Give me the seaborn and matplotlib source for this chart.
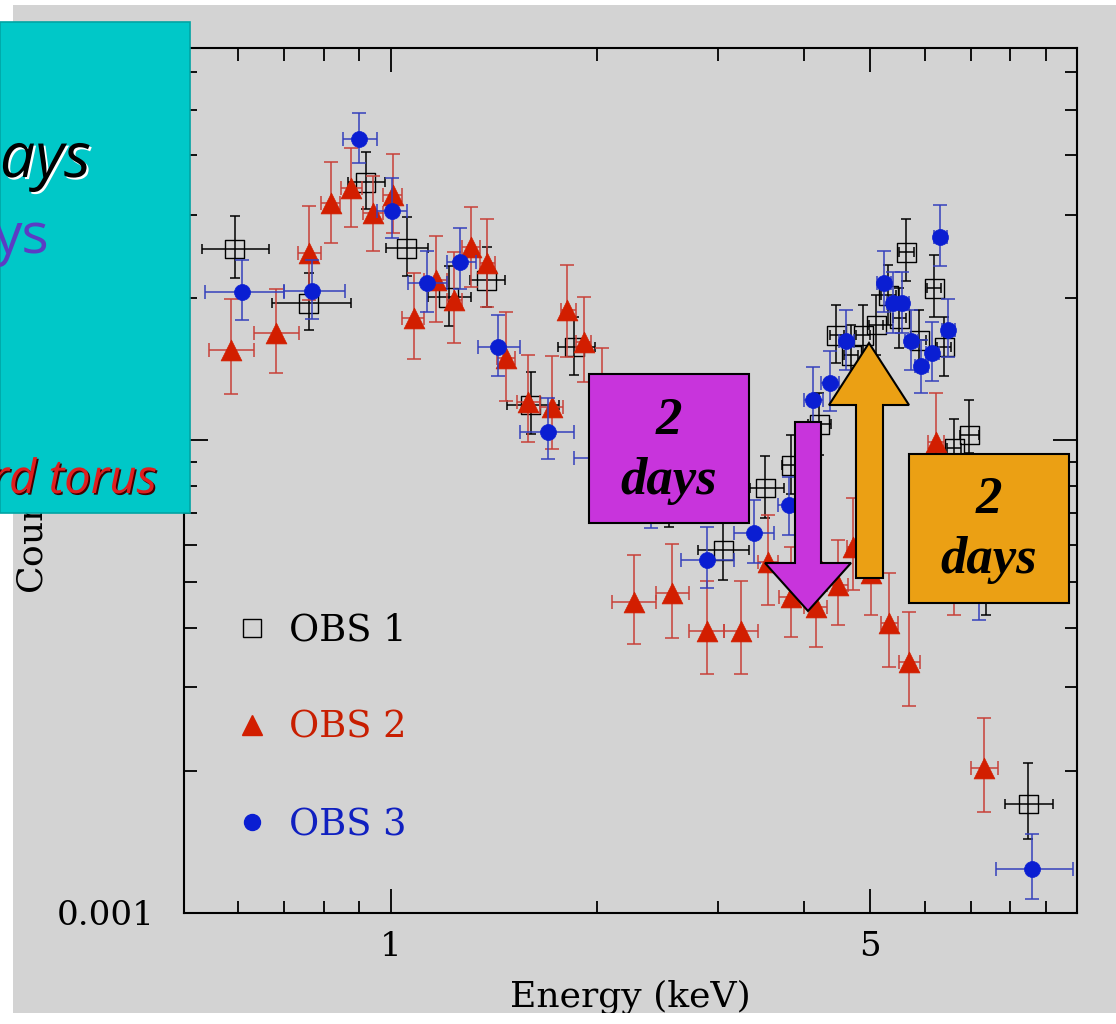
import matplotlib
matplotlib.use('Agg')
import matplotlib.pyplot as plt
import matplotlib.patches as mpatches
import matplotlib.patheffects as pe
from matplotlib.lines import Line2D
from matplotlib.ticker import FixedLocator, NullFormatter
import numpy as np
import pandas as pd
import seaborn as sns

# --- data (energy in keV, counts s^-1 keV^-1) ---
obs1_e   = [0.593, 0.760, 0.920, 1.055, 1.215, 1.380, 1.599, 1.853, 2.548, 3.054, 3.516, 3.837, 4.214, 4.461,
            4.691, 4.882, 5.100, 5.310, 5.509, 5.641, 5.892, 6.196, 6.407, 6.626, 6.967, 7.375, 8.492]
obs1_elo = [0.532, 0.671, 0.866, 0.983, 1.132, 1.303, 1.476, 1.751, 2.400, 2.809, 3.344, 3.720, 4.050, 4.360,
            4.580, 4.770, 4.980, 5.190, 5.390, 5.510, 5.760, 6.050, 6.260, 6.470, 6.750, 7.150, 7.861]
obs1_ehi = [0.666, 0.877, 0.980, 1.132, 1.308, 1.466, 1.757, 1.982, 2.700, 3.332, 3.747, 3.960, 4.380, 4.570,
            4.800, 5.000, 5.220, 5.440, 5.630, 5.780, 6.030, 6.340, 6.560, 6.780, 7.200, 7.630, 9.234]
obs1_c   = [0.02535, 0.01948, 0.03512, 0.02547, 0.02006, 0.02179, 0.01186, 0.01573, 0.00758, 0.00585, 0.00792,
            0.00885, 0.01081, 0.01667, 0.01512, 0.01667, 0.01751, 0.02025, 0.01811, 0.02498, 0.01627, 0.02096,
            0.01573, 0.00962, 0.01025, 0.00531, 0.00170]
obs1_chi = [0.02976, 0.02255, 0.04060, 0.02961, 0.02333, 0.02559, 0.01393, 0.01820, 0.00877, 0.00668, 0.00925,
            0.01025, 0.01257, 0.01929, 0.01751, 0.01930, 0.02025, 0.02344, 0.02096, 0.02933, 0.01883, 0.02461,
            0.01820, 0.01110, 0.01215, 0.00615, 0.002075]
obs1_clo = [0.02200, 0.01708, 0.03079, 0.02222, 0.01742, 0.01910, 0.01030, 0.01372, 0.00655, 0.00506, 0.00684,
            0.00770, 0.00930, 0.01455, 0.01310, 0.01440, 0.01512, 0.01751, 0.01565, 0.02168, 0.01406, 0.01820,
            0.01366, 0.00830, 0.00939, 0.00427, 0.001434]

obs2_e   = [0.585, 0.680, 0.760, 0.818, 0.877, 0.942, 1.007, 1.080, 1.163, 1.235, 1.308, 1.380, 1.471, 1.588,
            1.716, 1.810, 1.910, 2.029, 2.259, 2.574, 2.895, 3.244, 3.551, 3.837, 4.172, 4.491, 4.722, 5.015,
            5.328, 5.698, 6.237, 6.626, 7.326]
obs2_elo = [0.543, 0.632, 0.732, 0.791, 0.848, 0.910, 0.974, 1.040, 1.120, 1.207, 1.270, 1.350, 1.430, 1.530,
            1.650, 1.770, 1.860, 1.960, 2.098, 2.432, 2.725, 3.064, 3.435, 3.680, 4.000, 4.330, 4.620, 4.900,
            5.190, 5.500, 6.070, 6.450, 7.014]
obs2_ehi = [0.632, 0.735, 0.791, 0.845, 0.907, 0.974, 1.040, 1.120, 1.207, 1.270, 1.350, 1.420, 1.520, 1.650,
            1.780, 1.860, 1.960, 2.110, 2.432, 2.725, 3.064, 3.435, 3.670, 3.990, 4.330, 4.640, 4.850, 5.130,
            5.490, 5.900, 6.410, 6.800, 7.678]
obs2_c   = [0.01550, 0.01684, 0.02486, 0.03170, 0.03410, 0.03020, 0.03296, 0.01811, 0.02179, 0.01977, 0.02559,
            0.02367, 0.01490, 0.01203, 0.01174, 0.01883, 0.01612, 0.01240, 0.00455, 0.00475, 0.00395, 0.00395,
            0.00552, 0.00466, 0.00443, 0.00494, 0.00594, 0.00523, 0.00410, 0.00339, 0.00990, 0.00531, 0.002025]
obs2_chi = [0.01987, 0.02086, 0.03124, 0.03870, 0.04143, 0.03615, 0.04024, 0.02255, 0.02700, 0.02498, 0.03109,
            0.02933, 0.01864, 0.01512, 0.01505, 0.02344, 0.02006, 0.01565, 0.00571, 0.00603, 0.00503, 0.00503,
            0.00694, 0.00594, 0.00552, 0.00615, 0.00754, 0.00640, 0.00523, 0.00433, 0.01257, 0.00660, 0.00258]
obs2_clo = [0.01251, 0.01386, 0.01977, 0.02609, 0.02821, 0.02510, 0.02739, 0.01483, 0.01776, 0.01604, 0.02106,
            0.01910, 0.01209, 0.00990, 0.00957, 0.01497, 0.01326, 0.01000, 0.00370, 0.00381, 0.00320, 0.00320,
            0.00448, 0.00383, 0.00365, 0.00406, 0.00482, 0.00427, 0.00331, 0.00274, 0.00784, 0.00427, 0.001635]

obs3_e   = [0.607, 0.767, 0.898, 1.003, 1.128, 1.264, 1.436, 1.693, 2.112, 2.399, 2.895, 3.388, 3.811, 4.130,
            4.372, 4.613, 5.239, 5.400, 5.565, 5.737, 5.932, 6.155, 6.322, 6.494, 7.204, 8.607]
obs3_elo = [0.536, 0.699, 0.851, 0.954, 1.059, 1.207, 1.339, 1.545, 1.853, 2.244, 2.645, 3.169, 3.670, 4.000,
            4.240, 4.500, 5.120, 5.280, 5.440, 5.610, 5.800, 6.020, 6.180, 6.350, 6.970, 7.627]
obs3_ehi = [0.699, 0.857, 0.954, 1.055, 1.207, 1.330, 1.541, 1.853, 2.399, 2.548, 3.169, 3.623, 3.990, 4.260,
            4.500, 4.740, 5.360, 5.520, 5.690, 5.870, 6.070, 6.300, 6.470, 6.640, 7.450, 9.875]
obs3_c   = [0.02055, 0.02065, 0.04330, 0.03049, 0.02147, 0.02379, 0.01573, 0.01040, 0.00916, 0.00754, 0.00558,
            0.00636, 0.00729, 0.01215, 0.01320, 0.01620, 0.02147, 0.01948, 0.01948, 0.01620, 0.01434, 0.01527,
            0.02687, 0.01708, 0.00531, 0.001239]
obs3_chi = [0.02402, 0.02402, 0.04912, 0.03580, 0.02510, 0.02807, 0.01837, 0.01227, 0.01060, 0.00870, 0.00655,
            0.00747, 0.00835, 0.01427, 0.01543, 0.01883, 0.02510, 0.02270, 0.02270, 0.01883, 0.01627, 0.01776,
            0.03140, 0.01987, 0.00615, 0.001469]
obs3_clo = [0.01794, 0.01803, 0.03852, 0.02674, 0.01864, 0.02086, 0.01366, 0.00912, 0.00792, 0.00652, 0.00486,
            0.00550, 0.00630, 0.01025, 0.01152, 0.01406, 0.01864, 0.01684, 0.01684, 0.01406, 0.01257, 0.01332,
            0.02333, 0.01497, 0.00416, 0.00107]

obs_names = ['OBS 1', 'OBS 2', 'OBS 3']
x_major = [1, 5]
x_major_labels = ['1', '5']
x_minor = [0.6, 0.7, 0.8, 0.9, 2, 3, 4, 6, 7, 8, 9]
y_major = [0.001, 0.01]
y_major_labels = ['0.001', '0.01']
y_minor = [0.002, 0.003, 0.004, 0.005, 0.006, 0.007, 0.008, 0.009, 0.02, 0.03, 0.04, 0.05, 0.06]

frames = []
for name, e, elo, ehi, c, clo, chi in [
        ('OBS 1', obs1_e, obs1_elo, obs1_ehi, obs1_c, obs1_clo, obs1_chi),
        ('OBS 2', obs2_e, obs2_elo, obs2_ehi, obs2_c, obs2_clo, obs2_chi),
        ('OBS 3', obs3_e, obs3_elo, obs3_ehi, obs3_c, obs3_clo, obs3_chi)]:
    frames.append(pd.DataFrame({'obs': name, 'energy': e, 'e_lo': elo, 'e_hi': ehi,
                                'counts': c, 'c_lo': clo, 'c_hi': chi}))
df = pd.concat(frames, ignore_index=True)

RED = '#d21e00'
BLUE = '#0a1ed2'
styles = {
    'OBS 1': dict(marker='s', s=13.5 ** 2, fc='none', ec='black', lw=1.0, ecol='black', cap=3.5, z=2),
    'OBS 2': dict(marker='^', s=15 ** 2, fc=RED, ec=RED, lw=0.5, ecol='#c84038', cap=5, z=4),
    'OBS 3': dict(marker='o', s=11.5 ** 2, fc=BLUE, ec=BLUE, lw=0.5, ecol='#3440bc', cap=5, z=6),
}
text_colors = ['black', '#c81e00', '#1020c0']

sns.set_style('ticks')
plt.rcParams['font.family'] = ['DejaVu Serif']
plt.rcParams['mathtext.fontset'] = 'dejavuserif'

W, H = 1116, 1024
GRAY = '#d3d3d3'
fig = plt.figure(figsize=(W / 100, H / 100), dpi=100, facecolor=GRAY)
ax = fig.add_axes([184 / W, 1 - 913 / H, (1077 - 184) / W, (913 - 48) / H])
ax.set_facecolor('none')

for name in obs_names:
    st = styles[name]
    d = df[df['obs'] == name]
    ax.errorbar(d['energy'], d['counts'],
                xerr=[d['energy'] - d['e_lo'], d['e_hi'] - d['energy']],
                yerr=[d['counts'] - d['c_lo'], d['c_hi'] - d['counts']],
                fmt='none', ecolor=st['ecol'], elinewidth=1.1, capsize=st['cap'], capthick=1.1,
                zorder=st['z'])
    sns.scatterplot(data=d, x='energy', y='counts', ax=ax, marker=st['marker'], s=st['s'],
                    fc=st['fc'], ec=st['ec'], linewidth=st['lw'], zorder=st['z'] + 0.5, legend=False)

ax.set_xscale('log')
ax.set_yscale('log')
ax.set_xlim(0.5, 10)
ax.set_ylim(0.001, 0.0675)
ax.set_xticks(x_major, labels=x_major_labels)
ax.xaxis.set_minor_locator(FixedLocator(x_minor))
ax.xaxis.set_minor_formatter(NullFormatter())
ax.set_yticks(y_major, labels=y_major_labels)
ax.yaxis.set_minor_locator(FixedLocator(y_minor))
ax.yaxis.set_minor_formatter(NullFormatter())
ax.tick_params(which='both', direction='in', top=True, right=True, width=1.3, color='black',
               labelsize=24.5, labelcolor='black')
ax.tick_params(which='major', length=17)
ax.tick_params(which='minor', length=9)
ax.tick_params(axis='x', pad=13)
ax.tick_params(axis='y', pad=21)
for sp in ax.spines.values():
    sp.set_linewidth(1.5)
    sp.set_color('black')

ax.set_xlabel('Energy (keV)', fontsize=26, labelpad=12, color='black')
ax.set_ylabel('Counts s$^{-1}$ keV$^{-1}$', fontsize=26, color='black')
ax.yaxis.set_label_coords(-0.15, 0.55)

handles = [Line2D([], [], ls='none', marker=styles[n]['marker'], ms=np.sqrt(styles[n]['s']),
                  mfc=styles[n]['fc'], mec=styles[n]['ec'], mew=1.0) for n in obs_names]
ax.legend(handles, obs_names, loc='upper left', bbox_to_anchor=(0.056, 0.347), frameon=False,
          fontsize=26.5, handlelength=1.0, handletextpad=0.5, labelspacing=1.66, borderpad=0,
          borderaxespad=0, labelcolor=text_colors)


def fpx(x, y):
    return (x / W, 1 - y / H)


def box(x0, y0, x1, y1, color, edge='black', lw=1.5, z=10):
    p = mpatches.Rectangle(fpx(x0, y1), (x1 - x0) / W, (y1 - y0) / H, transform=fig.transFigure,
                           facecolor=color, edgecolor=edge, linewidth=lw, zorder=z)
    fig.patches.append(p)


def arrow(pts, color, z=11):
    p = mpatches.Polygon([fpx(x, y) for x, y in pts], closed=True, transform=fig.transFigure,
                         facecolor=color, edgecolor='black', linewidth=1.5, zorder=z)
    fig.patches.append(p)


# page margins
box(0, 0, W, 5, 'white', edge='none', lw=0, z=1)
box(0, 1013, W, H, 'white', edge='none', lw=0, z=1)
box(0, 0, 13, H, 'white', edge='none', lw=0, z=1)

MAGENTA = '#c834dc'
ORANGE = '#eba014'
box(589, 374, 749, 523, MAGENTA)
box(909, 454, 1069, 603, ORANGE)
arrow([(795, 422), (821, 422), (821, 563), (851, 563), (808, 611), (765, 563), (795, 563)], MAGENTA)
arrow([(856, 578), (883, 578), (883, 405), (909, 405), (869, 343), (829, 405), (856, 405)], ORANGE)
for cx, cy in [(669, 451), (989, 530)]:
    fig.text(cx / W, 1 - cy / H, '2\ndays', ha='center', va='center', ma='center',
             family='Liberation Serif', weight='bold', style='italic', fontsize=38,
             linespacing=1.3, color='black', zorder=12)

# cyan caption panel on the left
box(0, 22, 190, 513, '#00c8c8', edge='#00a4a4', lw=1.2, z=20)
fig.text(91 / W, 1 - 177 / H, 'ays', ha='right', va='baseline', family='Open Sans', style='italic',
         fontsize=45, color='black', zorder=21,
         path_effects=[pe.withSimplePatchShadow(offset=(1.5, -1.5), shadow_rgbFace='white', alpha=1)])
fig.text(50 / W, 1 - 253 / H, 'ys', ha='right', va='baseline', family='Open Sans',
         fontsize=41, color='#5b3cc4', zorder=21)
fig.text(157 / W, 1 - 493 / H, 'rd torus', ha='right', va='baseline', family='Open Sans', style='italic',
         fontsize=34, color='#e01e1e', zorder=21,
         path_effects=[pe.withSimplePatchShadow(offset=(1.2, -1.2), shadow_rgbFace='#400000', alpha=1)])

fig.savefig('out.png', dpi=100, facecolor=GRAY)
